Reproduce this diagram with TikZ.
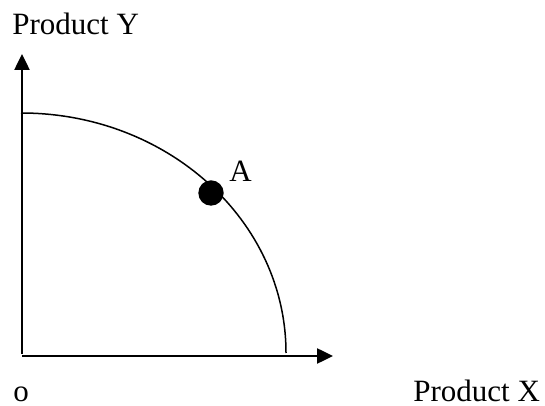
\documentclass[tikz,border=0pt]{standalone}
\usepackage{fontspec}
\setmainfont{Liberation Serif}
\usetikzlibrary{arrows.meta, positioning, calc}

\begin{document}
\begin{tikzpicture}[
        x=0.5pt, y=0.5pt,
        lbl/.style={inner sep=0pt, anchor=base west, font=\fontsize{15.5}{18}\selectfont},
        axis/.style={-{Triangle[length=8pt, width=7.5pt]}, line width=1.25pt},
        ppc/.style={line width=0.75pt},
        dotA/.style={circle, fill=black, inner sep=0pt, minimum size=12.7pt}
    ]
        \useasboundingbox (0,0) rectangle (545,406);
        % axes
        \coordinate (yb) at (22,52);
        \coordinate (yt) at (22,352);
        \coordinate (xb) at (22,50);
        \coordinate (xt) at (333,50);
        \draw[axis] (yb) -- (yt);
        \draw[axis] (xb) -- (xt);
        % curve
        \coordinate (c0) at (21,293);
        \draw[ppc] (c0) arc[start angle=90, end angle=0, x radius=265, y radius=240];
        \node[dotA] (ptA) at (211,213) {};
        \node[lbl] (labA) at (229,224) {A};
        % labels
        \node[lbl] (labY) at (12,371) {Product Y};
        \node[lbl] (labX) at (413,4) {Product X};
        \node[lbl] (labO) at (13,4) {o};
    \end{tikzpicture}
\end{document}
